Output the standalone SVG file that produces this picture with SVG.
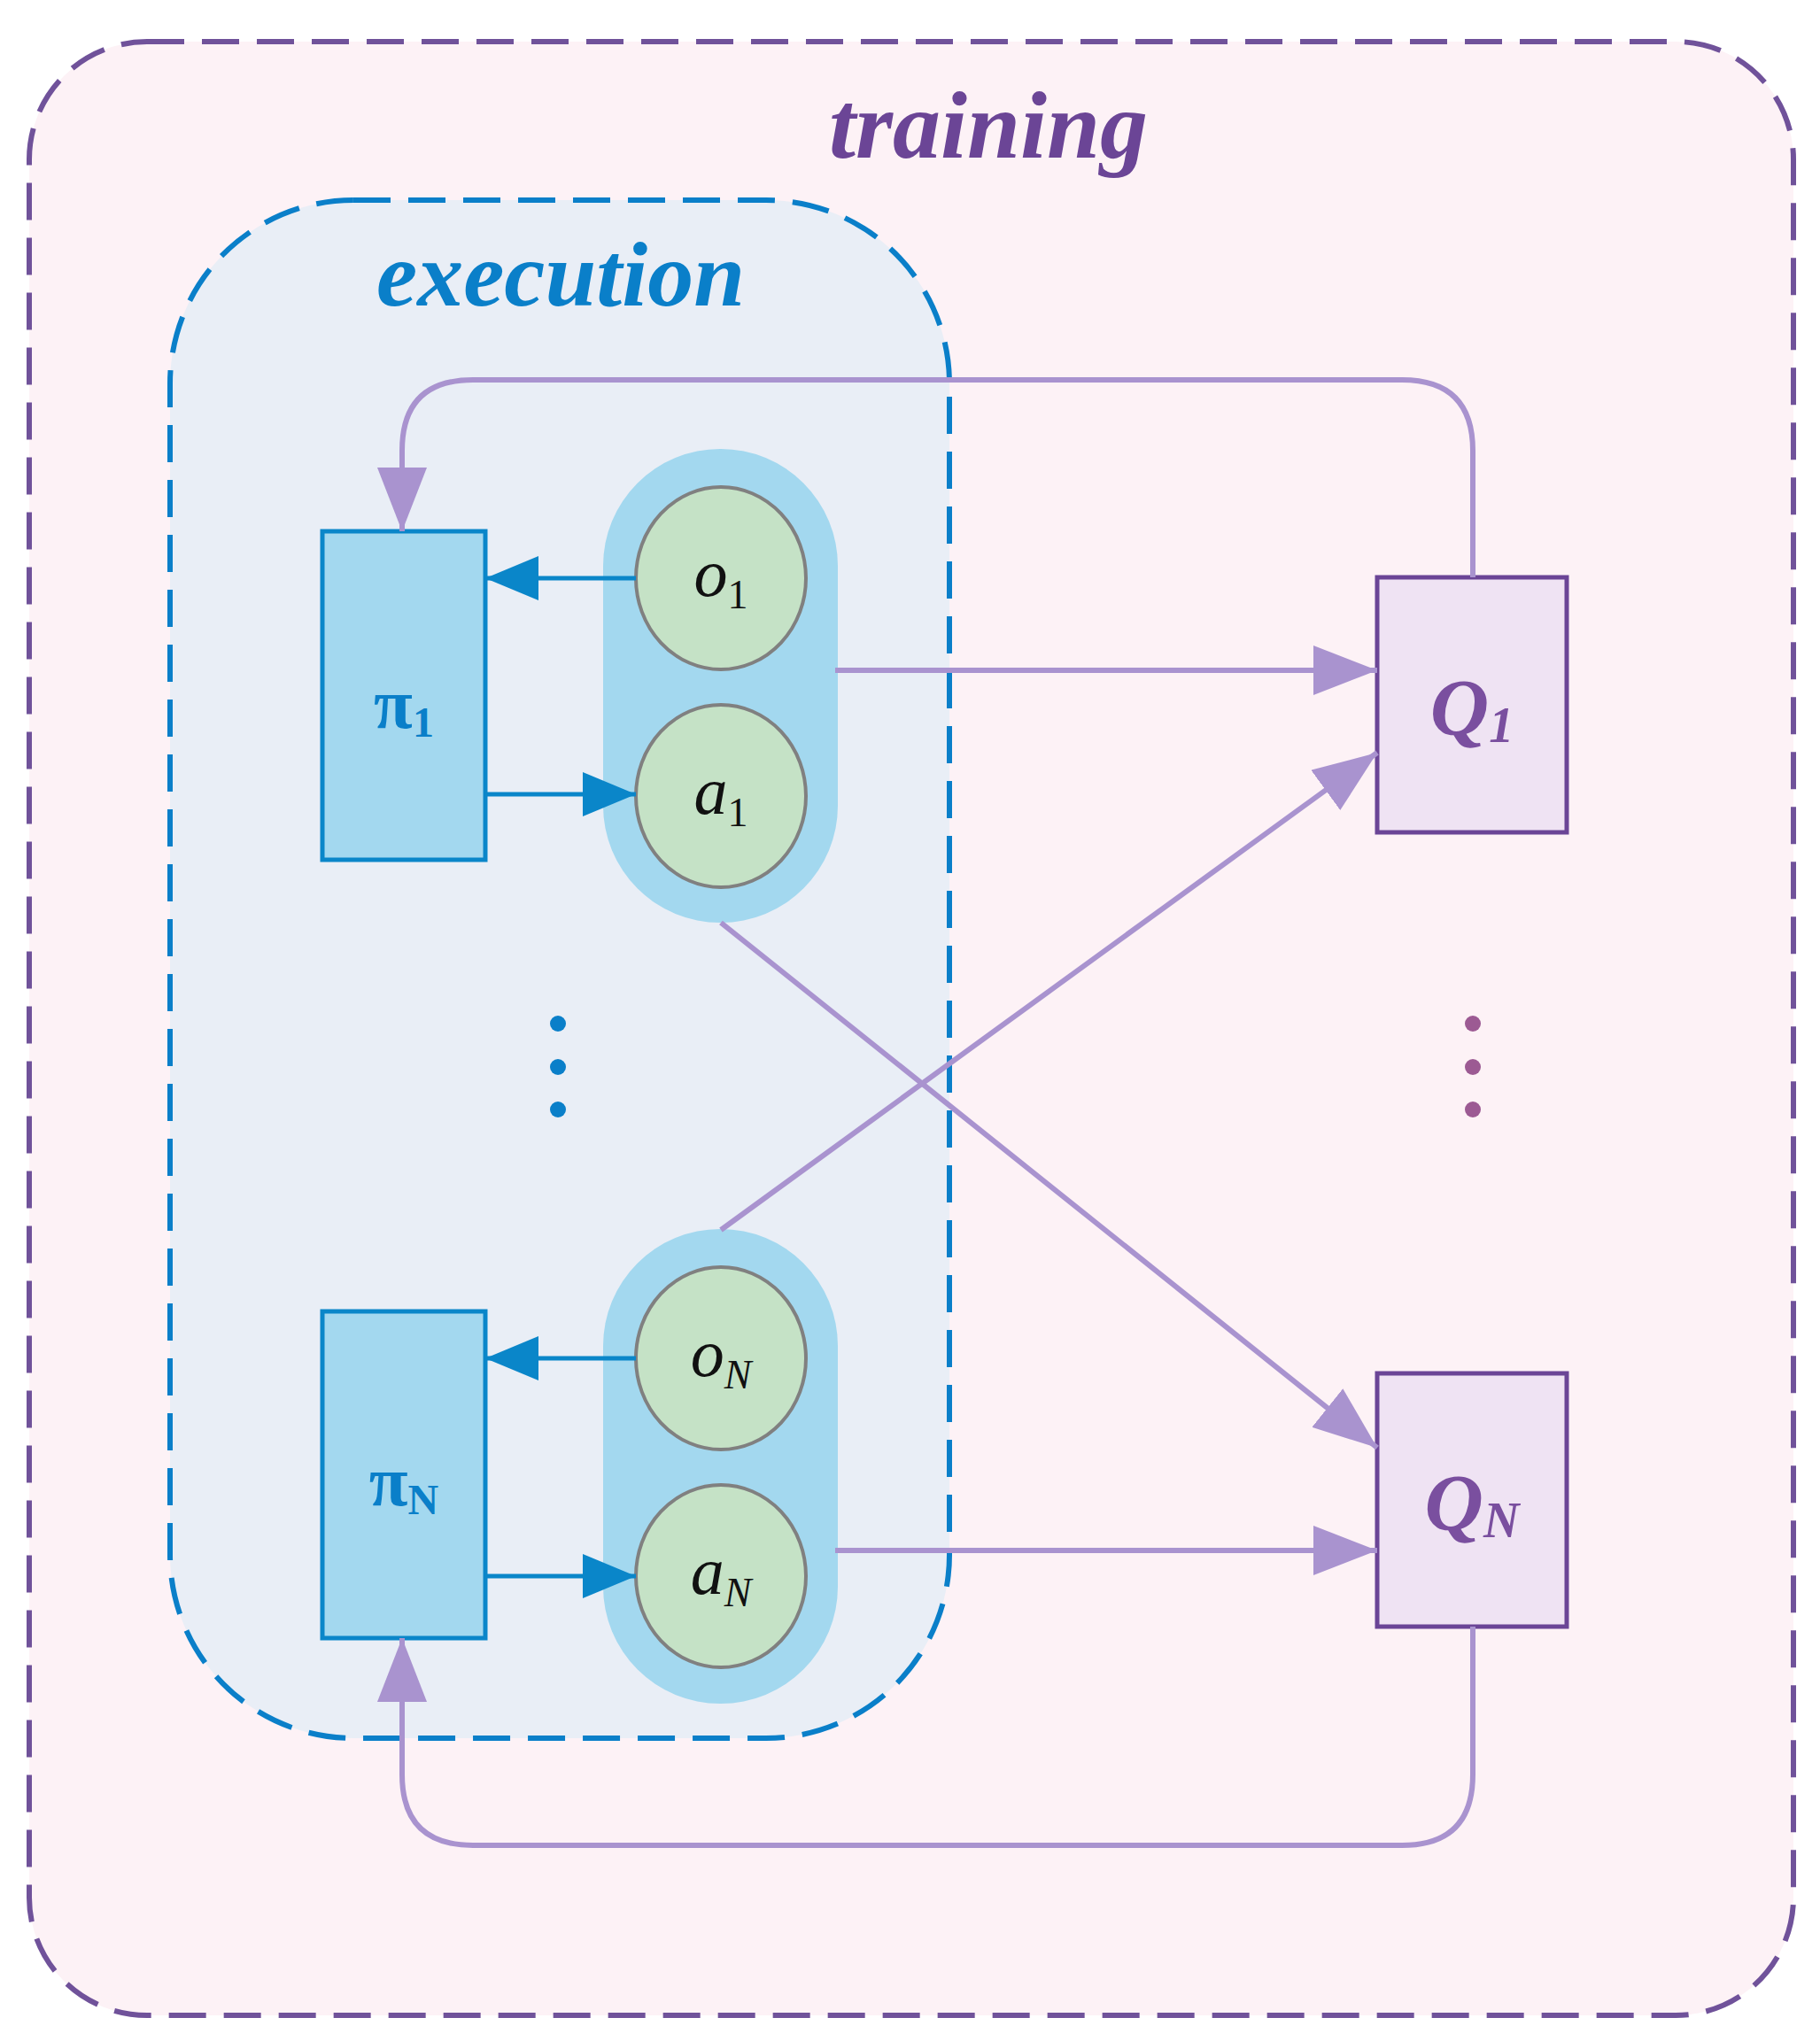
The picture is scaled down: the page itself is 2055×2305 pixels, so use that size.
<svg xmlns="http://www.w3.org/2000/svg" width="2055" height="2305" viewBox="0 0 2055 2305">
<style>
.pl{fill:none;stroke:#a993cf;stroke-width:6}
.bl{fill:none;stroke:#0a86c9;stroke-width:5}
.c{fill:#c5e2c6;stroke:#808080;stroke-width:4}
.m{font-family:"Liberation Serif",serif;font-style:italic;font-size:76px;fill:#111}
.s{font-size:46px;font-style:normal}
.si{font-size:46px}
</style>
<defs>
<marker id="ba" markerWidth="60" markerHeight="50" refX="60" refY="25" orient="auto" markerUnits="userSpaceOnUse"><path d="M0,0L60,25L0,50z" fill="#0a86c9"/></marker>
<marker id="pb" markerWidth="72" markerHeight="56" refX="72" refY="28" orient="auto" markerUnits="userSpaceOnUse"><path d="M0,0L72,28L0,56z" fill="#a993cf"/></marker>
</defs>
<g id="training"><rect x="33" y="47" width="1992" height="2229" rx="133" fill="#fdf2f6" stroke="#70529a" stroke-width="6" stroke-dasharray="42,20"/>
<text x="1116" y="178" text-anchor="middle" font-family="Liberation Serif,serif" font-style="italic" font-weight="bold" font-size="108" fill="#6b4596">training</text></g>
<g id="execution"><rect x="192" y="226" width="880" height="1737" rx="207" fill="#e9eef6" stroke="#0a7fc9" stroke-width="6" stroke-dasharray="42,20"/>
<text x="633" y="345" text-anchor="middle" font-family="Liberation Serif,serif" font-style="italic" font-weight="bold" font-size="104" fill="#0a7fc9">execution</text></g>
<g id="pi1"><rect x="364" y="600" width="184" height="371" fill="#a3d8ef" stroke="#0a86c9" stroke-width="5"/><text x="456" y="822" text-anchor="middle" font-family="Liberation Serif,serif" font-weight="bold" font-size="80" fill="#0a7fc9">π<tspan font-size="48" dy="10">1</tspan></text></g>
<g id="piN"><rect x="364" y="1481" width="184" height="369" fill="#a3d8ef" stroke="#0a86c9" stroke-width="5"/><text x="456" y="1700" text-anchor="middle" font-family="Liberation Serif,serif" font-weight="bold" font-size="80" fill="#0a7fc9">π<tspan font-size="48" dy="10">N</tspan></text></g>
<g id="pill1"><rect x="681" y="507" width="265" height="535" rx="132" fill="#a3d8ef"/></g>
<g id="pillN"><rect x="681" y="1388" width="265" height="536" rx="132" fill="#a3d8ef"/></g>
<g id="o1"><ellipse cx="814" cy="653" rx="96" ry="103" class="c"/><text x="814" y="673" text-anchor="middle" class="m">o<tspan class="s" dy="14">1</tspan></text></g>
<g id="a1"><ellipse cx="814" cy="899" rx="96" ry="103" class="c"/><text x="814" y="919" text-anchor="middle" class="m">a<tspan class="s" dy="14">1</tspan></text></g>
<g id="oN"><ellipse cx="814" cy="1534" rx="96" ry="103" class="c"/><text x="814" y="1554" text-anchor="middle" class="m">o<tspan class="si" dy="14">N</tspan></text></g>
<g id="aN"><ellipse cx="814" cy="1780" rx="96" ry="103" class="c"/><text x="814" y="1800" text-anchor="middle" class="m">a<tspan class="si" dy="14">N</tspan></text></g>
<g id="Q1"><rect x="1555" y="652" width="214" height="288" fill="#efe3f3" stroke="#6b4596" stroke-width="5"/><text x="1662" y="830" text-anchor="middle" font-family="Liberation Serif,serif" font-style="italic" font-weight="bold" font-size="92" fill="#7a4f9f">Q<tspan font-size="56" dy="8">1</tspan></text></g>
<g id="QN"><rect x="1555" y="1551" width="214" height="286" fill="#efe3f3" stroke="#6b4596" stroke-width="5"/><text x="1662" y="1728" text-anchor="middle" font-family="Liberation Serif,serif" font-style="italic" font-weight="bold" font-size="92" fill="#7a4f9f">Q<tspan font-size="56" dy="8">N</tspan></text></g>
<g id="dots"><g fill="#0a7fc9"><circle cx="630" cy="1156" r="9"/><circle cx="630" cy="1205" r="9"/><circle cx="630" cy="1253" r="9"/></g>
<g fill="#9c5a93"><circle cx="1663" cy="1156" r="9"/><circle cx="1663" cy="1205" r="9"/><circle cx="1663" cy="1253" r="9"/></g></g>
<g id="connectors">
<line x1="718" y1="653" x2="548" y2="653" class="bl" marker-end="url(#ba)"/>
<line x1="548" y1="897" x2="718" y2="897" class="bl" marker-end="url(#ba)"/>
<line x1="718" y1="1534" x2="548" y2="1534" class="bl" marker-end="url(#ba)"/>
<line x1="548" y1="1780" x2="718" y2="1780" class="bl" marker-end="url(#ba)"/>
<line x1="943" y1="757" x2="1555" y2="757" class="pl" marker-end="url(#pb)"/>
<line x1="943" y1="1751" x2="1555" y2="1751" class="pl" marker-end="url(#pb)"/>
<line x1="814" y1="1042" x2="1555" y2="1635" class="pl" marker-end="url(#pb)"/>
<line x1="814" y1="1389" x2="1555" y2="850" class="pl" marker-end="url(#pb)"/>
<path d="M1663,652V509Q1663,429 1583,429H534Q454,429 454,509V600" class="pl" marker-end="url(#pb)"/>
<path d="M1663,1837V2004Q1663,2084 1583,2084H534Q454,2084 454,2004V1850" class="pl" marker-end="url(#pb)"/>
</g>
</svg>
